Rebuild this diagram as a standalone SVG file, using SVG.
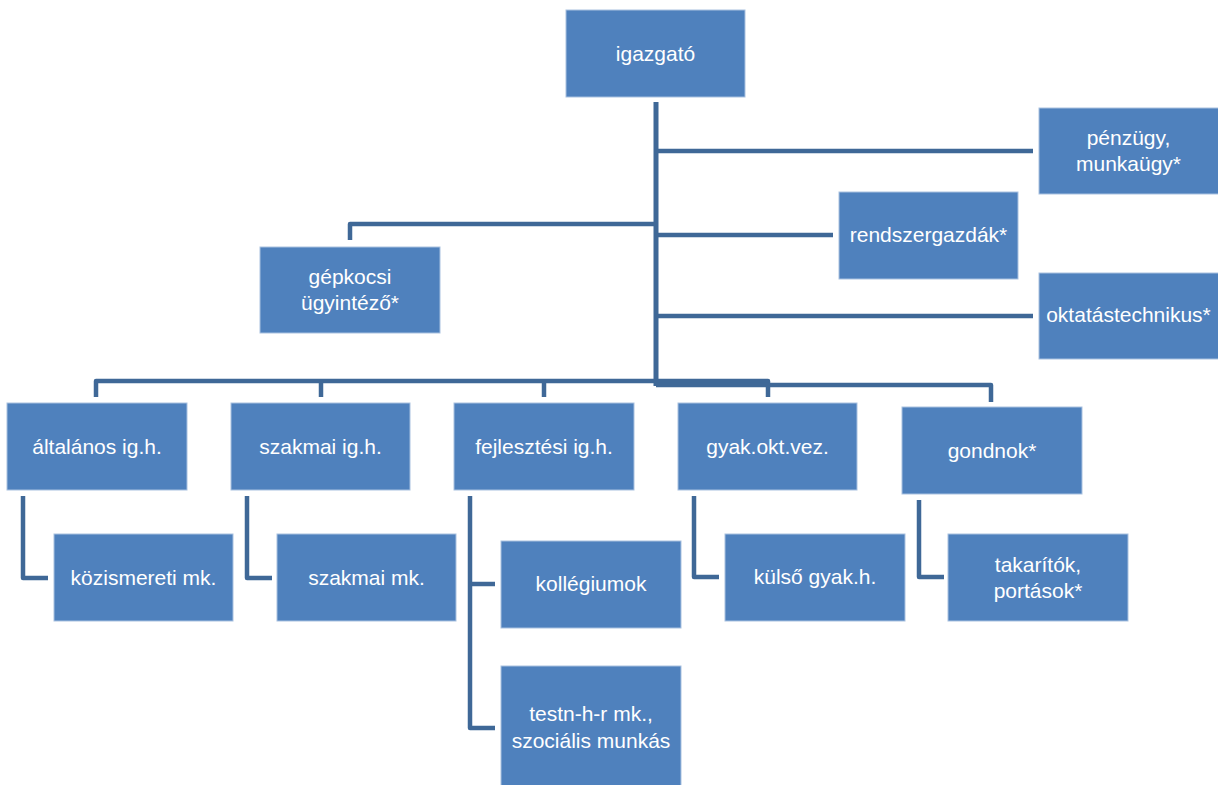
<svg xmlns="http://www.w3.org/2000/svg" width="1218" height="785" viewBox="0 0 1218 785">
<style>
.box{fill:#4F81BD;stroke:#A9C1E0;stroke-width:1}
.lbl{font-family:"Liberation Sans",Arial,sans-serif;font-size:21px;fill:#FFFFFF;text-anchor:middle}
.ln{fill:none;stroke:#3F6897;stroke-width:4.5;stroke-linejoin:round}
</style>
<rect width="1218" height="785" fill="#FFFFFF"/>
<g id="connectors">
<path class="ln" d="M656,102 V386" style="stroke-width:5"/>
<path class="ln" d="M656,151 H1033"/>
<path class="ln" d="M656,235 H833"/>
<path class="ln" d="M656,316 H1033"/>
<path class="ln" d="M656,224 H350 V240"/>
<path class="ln" d="M96,397 V381 H768 V397"/>
<path class="ln" d="M321,381 V397"/>
<path class="ln" d="M544,381 V397"/>
<path class="ln" d="M656,385 H991 V402"/>
<path class="ln" d="M23,496 V578 H48"/>
<path class="ln" d="M247,496 V578 H272"/>
<path class="ln" d="M470,496 V728 H495"/>
<path class="ln" d="M470,584 H495"/>
<path class="ln" d="M694,496 V577 H719"/>
<path class="ln" d="M919,500 V577 H944"/>
</g>
<g id="igazgato"><rect class="box" x="566" y="10" width="179" height="87"/><text class="lbl" x="655.5" y="61">igazgató</text></g>
<g id="penzugy"><rect class="box" x="1039" y="108" width="182" height="86"/><text class="lbl" x="1128.5" y="145">pénzügy,</text><text class="lbl" x="1128.5" y="171">munkaügy*</text></g>
<g id="rendszergazdak"><rect class="box" x="839" y="192" width="179" height="87"/><text class="lbl" x="928.5" y="242">rendszergazdák*</text></g>
<g id="oktatastechnikus"><rect class="box" x="1039" y="273" width="182" height="86"/><text class="lbl" x="1128.5" y="322">oktatástechnikus*</text></g>
<g id="gepkocsi"><rect class="box" x="260" y="247" width="180" height="86"/><text class="lbl" x="350" y="284">gépkocsi</text><text class="lbl" x="350" y="310">ügyintéző*</text></g>
<g id="altalanos"><rect class="box" x="7" y="403" width="180" height="87"/><text class="lbl" x="97" y="454">általános ig.h.</text></g>
<g id="szakmai"><rect class="box" x="231" y="403" width="179" height="87"/><text class="lbl" x="320.5" y="454">szakmai ig.h.</text></g>
<g id="fejlesztesi"><rect class="box" x="454" y="403" width="180" height="87"/><text class="lbl" x="544" y="454">fejlesztési ig.h.</text></g>
<g id="gyakoktvez"><rect class="box" x="678" y="403" width="179" height="87"/><text class="lbl" x="767.5" y="454">gyak.okt.vez.</text></g>
<g id="gondnok"><rect class="box" x="902" y="407" width="180" height="87"/><text class="lbl" x="992" y="458">gondnok*</text></g>
<g id="kozismereti"><rect class="box" x="54" y="534" width="179" height="87"/><text class="lbl" x="143.5" y="585">közismereti mk.</text></g>
<g id="szakmaimk"><rect class="box" x="277" y="534" width="179" height="87"/><text class="lbl" x="366.5" y="585">szakmai mk.</text></g>
<g id="kollegiumok"><rect class="box" x="501" y="541" width="180" height="87"/><text class="lbl" x="591" y="591">kollégiumok</text></g>
<g id="testn"><rect class="box" x="501" y="666" width="180" height="125"/><text class="lbl" x="591" y="721">testn-h-r mk.,</text><text class="lbl" x="591" y="748">szociális munkás</text></g>
<g id="kulso"><rect class="box" x="725" y="534" width="180" height="87"/><text class="lbl" x="815" y="584">külső gyak.h.</text></g>
<g id="takaritok"><rect class="box" x="948" y="534" width="180" height="87"/><text class="lbl" x="1038" y="572">takarítók,</text><text class="lbl" x="1038" y="598">portások*</text></g>
</svg>
